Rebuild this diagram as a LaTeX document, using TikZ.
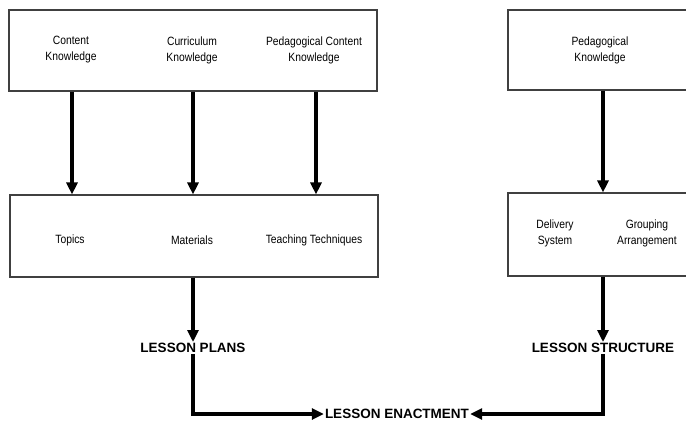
\documentclass[tikz,border=0pt]{standalone}
\usepackage{fontspec}
\setmainfont{Liberation Sans}
\newfontfamily\narrowfont[FakeStretch=0.86]{Liberation Sans}
\usetikzlibrary{arrows.meta,calc}

\begin{document}
\begin{tikzpicture}
  [
    x=1pt, y=-1pt,
    frame/.style =
      {draw=black!75, line width=1.1pt, rectangle, inner sep=0pt},
    item/.style =
      {align=center, font=\narrowfont\fontsize{12}{16}\selectfont},
    stage/.style =
      {inner sep=1pt, font=\bfseries\fontsize{13.5}{15}\selectfont},
    link/.style =
      {line width=3.2pt, -{Triangle[length=12pt,width=11pt]}}
  ]
  \useasboundingbox (0,0) rectangle (686,423);

  % boxes
  \node [frame, minimum width=368pt, minimum height=81pt] at (193,50.5)  (know) {};
  \node [frame, minimum width=186pt, minimum height=80pt] at (601,50)    (pedk) {};
  \node [frame, minimum width=368pt, minimum height=82pt] at (194,236)   (plan) {};
  \node [frame, minimum width=186pt, minimum height=83pt] at (601,234.5) (orga) {};

  % texts
  \node [item] at ( 71,50)  (ck)  {Content\\Knowledge};
  \node [item] at (192,50)  (cuk) {Curriculum\\Knowledge};
  \node [item] at (314,50)  (pck) {Pedagogical Content\\Knowledge};
  \node [item] at (600,50)  (pk)  {Pedagogical\\Knowledge};
  \node [item] at ( 70,240) (tp)  {Topics};
  \node [item] at (192,240) (mt)  {Materials};
  \node [item] at (314,240) (tt)  {Teaching Techniques};
  \node [item] at (555,233) (ds)  {Delivery\\System};
  \node [item] at (647,233) (ga)  {Grouping\\Arrangement};

  \node [stage] at (193,348) (lp) {LESSON PLANS};
  \node [stage] at (603,348) (ls) {LESSON STRUCTURE};
  \node [stage] at (397,414) (le) {LESSON ENACTMENT};

  \draw[link] (know.south -| 72,0)  -- (plan.north -| 72,0);
  \draw[link] (know.south -| 193,0) -- (plan.north -| 193,0);
  \draw[link] (know.south -| 316,0) -- (plan.north -| 316,0);
  \draw[link] (pedk.south -| 603,0) -- (orga.north -| 603,0);

  \draw[link] (plan.south -| lp) -- (lp.north);
  \draw[link] (orga.south -| ls) -- (ls.north);

  \draw[link] (lp.south) |- (le.west);
  \draw[link] (ls.south) |- (le.east);

\end{tikzpicture}
\end{document}
